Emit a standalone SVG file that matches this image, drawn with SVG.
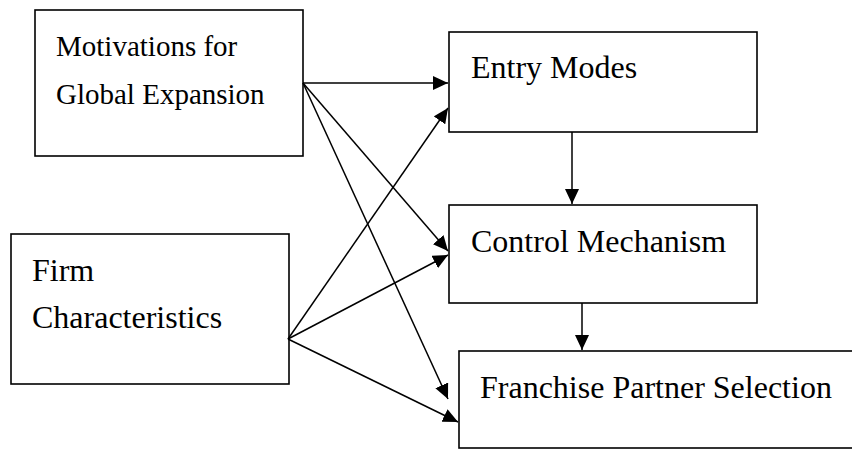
<svg xmlns="http://www.w3.org/2000/svg" width="852" height="449" viewBox="0 0 852 449">
<style>
.box{fill:#fff;stroke:#000;stroke-width:1.6}
.t{font-family:"Liberation Serif","Times New Roman",serif;fill:#000}
.c{stroke:#000;stroke-width:1.5;fill:none;marker-end:url(#ah)}
</style>
<defs>
<marker id="ah" markerUnits="userSpaceOnUse" markerWidth="16" markerHeight="14" refX="15" refY="7" orient="auto">
<path d="M0,0 L15,7 L0,14 z" fill="#000"/>
</marker>
</defs>
<rect width="852" height="449" fill="#fff"/>
<g id="motivations">
<rect class="box" x="35" y="10" width="268" height="146"/>
<text class="t" x="56" y="56" font-size="29">Motivations for</text>
<text class="t" x="56" y="104" font-size="29">Global Expansion</text>
</g>
<g id="firm">
<rect class="box" x="11" y="234" width="278" height="150"/>
<text class="t" x="32" y="281" font-size="32">Firm</text>
<text class="t" x="32" y="328" font-size="32">Characteristics</text>
</g>
<g id="entry">
<rect class="box" x="449" y="32" width="308" height="100"/>
<text class="t" x="471" y="78" font-size="32">Entry Modes</text>
</g>
<g id="control">
<rect class="box" x="449" y="205" width="308" height="98"/>
<text class="t" x="471" y="252" font-size="32">Control Mechanism</text>
</g>
<g id="franchise">
<rect class="box" x="459" y="351" width="400" height="97"/>
<text class="t" x="480" y="398" font-size="32">Franchise Partner Selection</text>
</g>
<g id="connectors">
<line class="c" x1="303" y1="83" x2="448" y2="83"/>
<line class="c" x1="303" y1="83" x2="448" y2="251"/>
<line class="c" x1="303" y1="83" x2="448" y2="399"/>
<line class="c" x1="288" y1="339" x2="448" y2="108"/>
<line class="c" x1="288" y1="339" x2="448" y2="255"/>
<line class="c" x1="288" y1="339" x2="458" y2="422"/>
<line class="c" x1="572" y1="132" x2="572" y2="204"/>
<line class="c" x1="582" y1="303" x2="582" y2="350"/>
</g>
</svg>
